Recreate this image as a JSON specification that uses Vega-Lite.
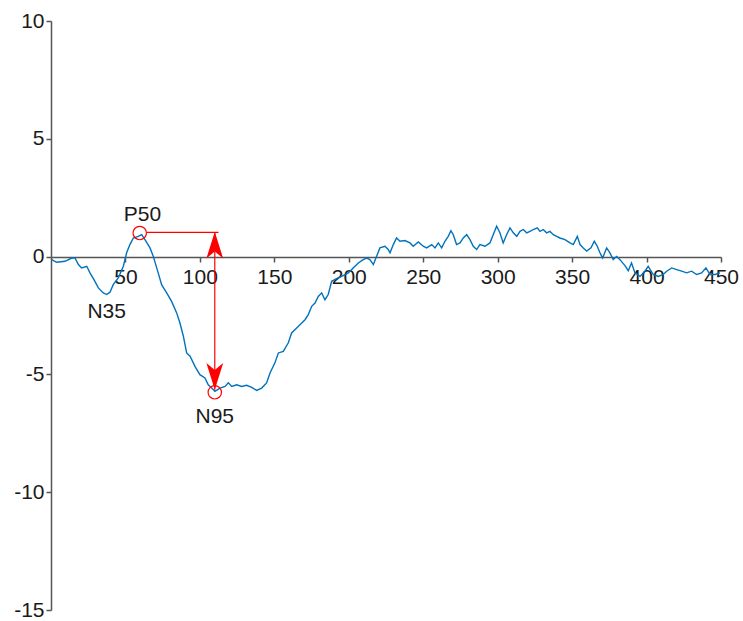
{
  "$schema": "https://vega.github.io/schema/vega-lite/v6.json",
  "width": 670,
  "height": 589,
  "autosize": {"type": "none"},
  "padding": {"left": 51, "top": 21, "right": 22, "bottom": 11},
  "background": "white",
  "config": {
    "view": {"stroke": null},
    "font": "Liberation Sans",
    "axis": {
      "grid": false,
      "domainColor": "#555555",
      "domainWidth": 1.5,
      "tickColor": "#555555",
      "tickWidth": 1.5,
      "tickSize": 5,
      "labelFont": "Liberation Sans",
      "labelFontSize": 21,
      "labelColor": "#1a1a1a",
      "labelOverlap": false,
      "labelBound": false,
      "labelFlush": false
    }
  },
  "datasets": {
    "wave": [
      {"x": 0.5, "y": -0.13}, {"x": 3.8, "y": -0.24}, {"x": 9.4, "y": -0.2}, {"x": 13.9, "y": -0.06},
      {"x": 16, "y": -0.05}, {"x": 18.4, "y": -0.34}, {"x": 20.6, "y": -0.48}, {"x": 24, "y": -0.41},
      {"x": 26.2, "y": -0.69}, {"x": 29.5, "y": -1.05}, {"x": 31.8, "y": -1.33}, {"x": 35.1, "y": -1.54},
      {"x": 37.4, "y": -1.61}, {"x": 39.6, "y": -1.51}, {"x": 41.8, "y": -1.19}, {"x": 45.2, "y": -0.9},
      {"x": 48.6, "y": -0.41}, {"x": 50.8, "y": 0.16}, {"x": 53, "y": 0.51}, {"x": 55.3, "y": 0.79},
      {"x": 58.6, "y": 0.86}, {"x": 60.9, "y": 0.93}, {"x": 63.1, "y": 0.72}, {"x": 66.5, "y": 0.37},
      {"x": 68.7, "y": 0.01}, {"x": 72, "y": -0.69}, {"x": 74.3, "y": -1.19}, {"x": 77.7, "y": -1.54},
      {"x": 81, "y": -1.9}, {"x": 84.4, "y": -2.39}, {"x": 86.6, "y": -2.82}, {"x": 88.9, "y": -3.38},
      {"x": 91.1, "y": -4.09}, {"x": 93.4, "y": -4.23}, {"x": 96.7, "y": -4.66}, {"x": 100, "y": -5.01},
      {"x": 103.4, "y": -5.15}, {"x": 105.6, "y": -5.44}, {"x": 107.9, "y": -5.58}, {"x": 110.1, "y": -5.72},
      {"x": 113.5, "y": -5.58}, {"x": 116.9, "y": -5.51}, {"x": 119.1, "y": -5.36}, {"x": 121.4, "y": -5.51},
      {"x": 124.7, "y": -5.44}, {"x": 128.1, "y": -5.51}, {"x": 131.4, "y": -5.46}, {"x": 134.8, "y": -5.55},
      {"x": 138.1, "y": -5.68}, {"x": 141.5, "y": -5.58}, {"x": 144.8, "y": -5.36}, {"x": 147.1, "y": -4.94},
      {"x": 150.4, "y": -4.51}, {"x": 152.7, "y": -4.09}, {"x": 156, "y": -4.02}, {"x": 159.4, "y": -3.66},
      {"x": 161.6, "y": -3.24}, {"x": 165, "y": -3.03}, {"x": 168.4, "y": -2.82}, {"x": 170.6, "y": -2.68},
      {"x": 172.8, "y": -2.46}, {"x": 175.1, "y": -2.11}, {"x": 177.3, "y": -1.97}, {"x": 179.5, "y": -1.69},
      {"x": 181.8, "y": -1.54}, {"x": 184, "y": -1.83}, {"x": 186.2, "y": -1.61}, {"x": 188.5, "y": -1.05},
      {"x": 191.5, "y": -0.95}, {"x": 195.2, "y": -0.84}, {"x": 199.7, "y": -0.69}, {"x": 203, "y": -0.48},
      {"x": 206.4, "y": -0.27}, {"x": 209.7, "y": -0.13}, {"x": 212, "y": -0.06}, {"x": 214.2, "y": -0.13},
      {"x": 216.5, "y": -0.34}, {"x": 218.7, "y": 0.01}, {"x": 220.9, "y": 0.37}, {"x": 224.3, "y": 0.44},
      {"x": 226.5, "y": 0.3}, {"x": 227.7, "y": 0.16}, {"x": 229.9, "y": 0.51}, {"x": 232.1, "y": 0.79},
      {"x": 234.4, "y": 0.65}, {"x": 237.7, "y": 0.68}, {"x": 241.1, "y": 0.58}, {"x": 243.3, "y": 0.44},
      {"x": 246.7, "y": 0.62}, {"x": 250, "y": 0.44}, {"x": 252.3, "y": 0.37}, {"x": 255.7, "y": 0.51},
      {"x": 257.9, "y": 0.37}, {"x": 260.1, "y": 0.58}, {"x": 262.4, "y": 0.37}, {"x": 264.6, "y": 0.65},
      {"x": 266.8, "y": 0.86}, {"x": 268.6, "y": 1.1}, {"x": 270.2, "y": 0.93}, {"x": 272.4, "y": 0.51},
      {"x": 274.7, "y": 0.58}, {"x": 276.9, "y": 0.79}, {"x": 279.2, "y": 0.93}, {"x": 281.4, "y": 0.72},
      {"x": 283.6, "y": 0.44}, {"x": 285.9, "y": 0.3}, {"x": 288.1, "y": 0.51}, {"x": 291.5, "y": 0.44},
      {"x": 294.8, "y": 0.58}, {"x": 297, "y": 0.93}, {"x": 299.3, "y": 1.29}, {"x": 301.5, "y": 1.01},
      {"x": 303.7, "y": 0.58}, {"x": 306, "y": 0.93}, {"x": 308.3, "y": 1.22}, {"x": 310.5, "y": 1.01},
      {"x": 312.8, "y": 0.86}, {"x": 315, "y": 1.07}, {"x": 317.2, "y": 1.15}, {"x": 319.5, "y": 1.01},
      {"x": 321.7, "y": 1.07}, {"x": 323.9, "y": 1.15}, {"x": 326.6, "y": 1.22}, {"x": 328.4, "y": 1.07},
      {"x": 330.6, "y": 1.15}, {"x": 332.9, "y": 1.01}, {"x": 335.1, "y": 1.07}, {"x": 337.4, "y": 0.93},
      {"x": 339.6, "y": 0.86}, {"x": 341.8, "y": 0.79}, {"x": 345.2, "y": 0.72}, {"x": 348.6, "y": 0.58},
      {"x": 350.8, "y": 0.51}, {"x": 353.5, "y": 0.86}, {"x": 355.3, "y": 0.51}, {"x": 357.5, "y": 0.37},
      {"x": 359.8, "y": 0.23}, {"x": 362.7, "y": 0.37}, {"x": 364.9, "y": 0.65}, {"x": 366.9, "y": 0.44},
      {"x": 368.7, "y": 0.16}, {"x": 370.5, "y": -0.06}, {"x": 373.2, "y": 0.37}, {"x": 375.4, "y": 0.16},
      {"x": 377.6, "y": -0.13}, {"x": 379.9, "y": 0.01}, {"x": 382.1, "y": -0.13}, {"x": 385.5, "y": -0.38},
      {"x": 387.7, "y": -0.6}, {"x": 389.9, "y": -0.27}, {"x": 392.2, "y": -0.69}, {"x": 395.6, "y": -0.84},
      {"x": 398.9, "y": -0.62}, {"x": 401.1, "y": -0.41}, {"x": 404.5, "y": -0.76}, {"x": 407.9, "y": -0.84},
      {"x": 411.2, "y": -0.76}, {"x": 413.5, "y": -0.62}, {"x": 416.9, "y": -0.48}, {"x": 420.2, "y": -0.55},
      {"x": 423.6, "y": -0.62}, {"x": 426.9, "y": -0.69}, {"x": 430.3, "y": -0.62}, {"x": 433.6, "y": -0.76},
      {"x": 437, "y": -0.69}, {"x": 439.9, "y": -0.48}, {"x": 442.6, "y": -0.76}, {"x": 446, "y": -0.76},
      {"x": 449.3, "y": -0.69}
    ],
    "hline": [{"x": 64.5, "x2": 112.5, "y": 1.03}],
    "vline": [{"x": 110, "y": 1.03, "y2": -5.65}],
    "circles": [{"x": 59.6, "y": 1.0}, {"x": 110, "y": -5.76}],
    "arrowUp": [{"x": 110, "y": 1.05}],
    "arrowDown": [{"x": 110, "y": -5.65}],
    "labels": [
      {"x": 61.4, "y": 1.5, "label": "P50"},
      {"x": 37.4, "y": -2.6, "label": "N35"},
      {"x": 110, "y": -7.05, "label": "N95"}
    ]
  },
  "layer": [
    {
      "data": {"name": "wave"},
      "mark": {"type": "line", "stroke": "#0072BD", "strokeWidth": 1.4, "interpolate": "linear"},
      "encoding": {
        "x": {
          "field": "x", "type": "quantitative", "title": null,
          "scale": {"domain": [0, 450], "nice": false, "zero": false},
          "axis": {"values": [50, 100, 150, 200, 250, 300, 350, 400, 450], "offset": -353, "labelPadding": 4, "labelExpr": "'' + datum.value"}
        },
        "y": {
          "field": "y", "type": "quantitative", "title": null,
          "scale": {"domain": [-15, 10], "nice": false, "zero": false},
          "axis": {"values": [-15, -10, -5, 0, 5, 10], "labelPadding": 2, "labelExpr": "'' + datum.value"}
        }
      }
    },
    {
      "data": {"name": "hline"},
      "mark": {"type": "rule", "stroke": "#ff0000", "strokeWidth": 1.2},
      "encoding": {
        "x": {"field": "x", "type": "quantitative", "title": null},
        "x2": {"field": "x2"},
        "y": {"field": "y", "type": "quantitative", "title": null}
      }
    },
    {
      "data": {"name": "vline"},
      "mark": {"type": "rule", "stroke": "#ff0000", "strokeWidth": 1.2},
      "encoding": {
        "x": {"field": "x", "type": "quantitative", "title": null},
        "y": {"field": "y", "type": "quantitative", "title": null},
        "y2": {"field": "y2"}
      }
    },
    {
      "data": {"name": "circles"},
      "mark": {"type": "point", "shape": "circle", "filled": false, "stroke": "#ff0000", "strokeWidth": 1.2, "size": 180, "opacity": 1},
      "encoding": {
        "x": {"field": "x", "type": "quantitative", "title": null},
        "y": {"field": "y", "type": "quantitative", "title": null}
      }
    },
    {
      "data": {"name": "arrowUp"},
      "mark": {"type": "point", "shape": "M0,0 L0.6,1.9 L0,1.4 L-0.6,1.9 Z", "filled": true, "fill": "#ff0000", "size": 784, "opacity": 1},
      "encoding": {
        "x": {"field": "x", "type": "quantitative", "title": null},
        "y": {"field": "y", "type": "quantitative", "title": null}
      }
    },
    {
      "data": {"name": "arrowDown"},
      "mark": {"type": "point", "shape": "M0,0 L0.6,-1.9 L0,-1.4 L-0.6,-1.9 Z", "filled": true, "fill": "#ff0000", "size": 784, "opacity": 1},
      "encoding": {
        "x": {"field": "x", "type": "quantitative", "title": null},
        "y": {"field": "y", "type": "quantitative", "title": null}
      }
    },
    {
      "data": {"name": "labels"},
      "mark": {"type": "text", "fontSize": 21, "font": "Liberation Sans", "color": "#1a1a1a", "align": "center", "baseline": "alphabetic"},
      "encoding": {
        "x": {"field": "x", "type": "quantitative", "title": null},
        "y": {"field": "y", "type": "quantitative", "title": null},
        "text": {"field": "label"}
      }
    }
  ]
}
